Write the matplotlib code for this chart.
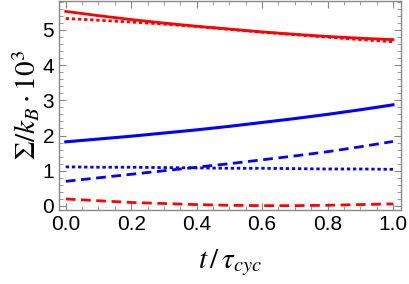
import numpy as np
import matplotlib
matplotlib.use("Agg")
import matplotlib.pyplot as plt
from matplotlib.ticker import MultipleLocator

plt.rcParams['font.family'] = ['Liberation Sans', 'DejaVu Sans']
plt.rcParams['mathtext.fontset'] = 'stix'

# data
t = [0.0, 0.1, 0.2, 0.3, 0.4, 0.5, 0.6, 0.7, 0.8, 0.9, 1.0]
red_solid = [5.52, 5.40, 5.29, 5.19, 5.10, 5.02, 4.94, 4.87, 4.81, 4.76, 4.72]
red_dotted = [5.32, 5.27, 5.22, 5.16, 5.09, 5.01, 4.93, 4.86, 4.79, 4.72, 4.66]
red_dashed = [0.20, 0.15, 0.10, 0.07, 0.04, 0.02, 0.01, 0.01, 0.02, 0.04, 0.06]
blue_solid = [1.82, 1.90, 1.98, 2.07, 2.16, 2.26, 2.37, 2.48, 2.60, 2.73, 2.87]
blue_dashed = [0.70, 0.80, 0.90, 1.00, 1.10, 1.20, 1.31, 1.42, 1.54, 1.68, 1.83]
blue_dotted = [1.11, 1.10, 1.10, 1.09, 1.08, 1.07, 1.07, 1.06, 1.05, 1.05, 1.04]

fig = plt.figure(figsize=(4.09, 2.84), dpi=100)
ax = fig.add_axes([0.144, 0.261, 0.836, 0.736])

lw = 2.0
ax.plot(t, red_solid, c="#ff0000", lw=lw)
ax.plot(t, red_dotted, c="#ff0000", lw=lw, dashes=(1.2, 1.0))
ax.plot(t, red_dashed, c="#ff0000", lw=lw, dashes=(3.5, 2.0))
ax.plot(t, blue_solid, c="#0000ff", lw=2.2)
ax.plot(t, blue_dashed, c="#0000ff", lw=lw, dashes=(3.5, 2.0))
ax.plot(t, blue_dotted, c="#0000ff", lw=lw, dashes=(1.2, 1.0))

ax.set_xlim(-0.021, 1.024)
ax.set_ylim(-0.11, 5.82)
ax.xaxis.set_major_locator(MultipleLocator(0.2))
ax.xaxis.set_minor_locator(MultipleLocator(0.05))
ax.yaxis.set_major_locator(MultipleLocator(1))
ax.yaxis.set_minor_locator(MultipleLocator(0.2))
ax.xaxis.set_major_formatter(plt.FormatStrFormatter('%.1f'))

gray = "#888888"
for s in ax.spines.values():
    s.set_color(gray)
    s.set_linewidth(1.0)
ax.tick_params(which='both', direction='in', top=True, right=True, colors=gray,
               labelcolor='black', labelsize=15)
ax.tick_params(which='major', length=5)
ax.tick_params(which='minor', length=3)

ax.set_xlabel(r"$t\,/\,\tau_{cyc}$", fontsize=21, labelpad=10)
ax.set_ylabel(r"$\Sigma/k_B\cdot10^3$", fontsize=21, labelpad=0)

fig.savefig("out.png", dpi=100)
